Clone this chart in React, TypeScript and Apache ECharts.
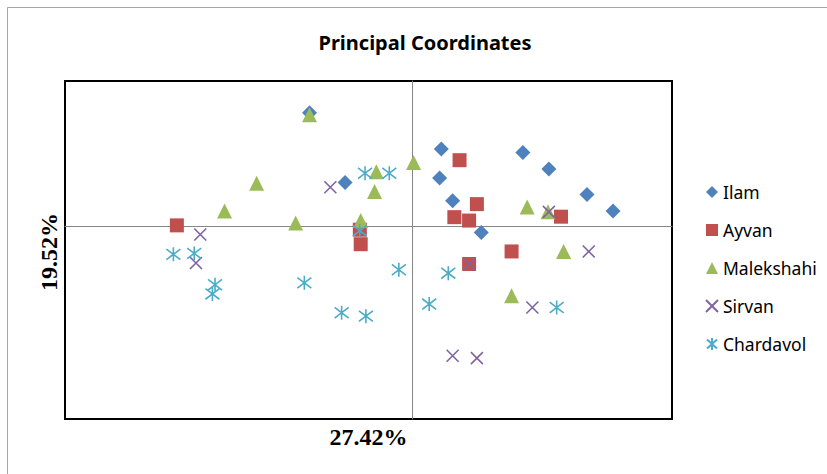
import React, { useEffect, useRef } from "react";
import * as echarts from "echarts";

const seriesNames = ["Ilam", "Ayvan", "Malekshahi", "Sirvan", "Chardavol"];
const seriesColors = ["#4F81BD", "#C0504D", "#9BBB59", "#8064A2", "#4BACC6"];

const ilam: [number, number][] = [
  [-0.118, 0.234], [-0.077, 0.090], [0.034, 0.159], [0.032, 0.099], [0.047, 0.052],
  [0.080, -0.014], [0.128, 0.152], [0.158, 0.118], [0.202, 0.065], [0.232, 0.031],
];
const ayvan: [number, number][] = [
  [-0.271, 0.001], [-0.060, -0.008], [-0.059, -0.038], [0.055, 0.136], [0.075, 0.045],
  [0.049, 0.018], [0.066, 0.011], [0.172, 0.019], [0.115, -0.053], [0.066, -0.079],
];
const malekshahi: [number, number][] = [
  [-0.118, 0.230], [-0.041, 0.112], [-0.043, 0.071], [0.002, 0.131], [-0.179, 0.088],
  [-0.216, 0.031], [-0.134, 0.006], [-0.059, 0.011], [0.133, 0.039], [0.157, 0.029],
  [0.175, -0.053], [0.115, -0.145],
];
const sirvan: [number, number][] = [
  [-0.094, 0.080], [-0.244, -0.018], [-0.249, -0.077], [0.158, 0.029], [0.204, -0.053],
  [0.066, -0.079], [0.139, -0.169], [0.047, -0.269], [0.075, -0.274],
];
const chardavol: [number, number][] = [
  [-0.054, 0.109], [-0.026, 0.109], [-0.060, -0.010], [-0.275, -0.059], [-0.251, -0.057],
  [-0.227, -0.122], [-0.230, -0.141], [-0.124, -0.118], [-0.081, -0.180], [-0.053, -0.187],
  [-0.015, -0.091], [0.042, -0.098], [0.020, -0.162], [0.167, -0.169],
];

const titleText = "Principal Coordinates";
const xAxisLabel = "27.42%";
const yAxisLabel = "19.52%";

const X_PATH = "path://M0,0 L10,10 M10,0 L0,10";
const STAR_PATH = "path://M5,0 L5,10 M0.8,1.2 L9.2,8.8 M0.8,8.8 L9.2,1.2";

export default function App() {
  const ref = useRef<HTMLDivElement>(null);
  useEffect(() => {
    if (!ref.current) return;
    const chart = echarts.init(ref.current, null, { renderer: "svg" });
    const datasets = [ilam, ayvan, malekshahi, sirvan, chardavol];
    const symbols = ["diamond", "rect", "triangle", X_PATH, STAR_PATH];
    const sizes = [15, 14, 15, 12, 14];
    const series = datasets.map((d, i) => {
      const isLine = i >= 3;
      return {
        name: seriesNames[i],
        type: "scatter",
        data: d,
        symbol: symbols[i],
        symbolSize: sizes[i],
        z: 2 + i,
        itemStyle: isLine
          ? { color: "rgba(0,0,0,0)", borderColor: seriesColors[i], borderWidth: 1.6, opacity: 1 }
          : { color: seriesColors[i], borderWidth: 0, opacity: 1 },
        emphasis: { disabled: true },
      };
    });
    chart.setOption({
      animation: false,
      backgroundColor: "#ffffff",
      grid: {
        left: 65,
        right: 155,
        top: 81,
        bottom: 55,
        show: true,
        borderColor: "#000000",
        borderWidth: 2,
        containLabel: false,
      },
      xAxis: {
        type: "value",
        min: -0.4,
        max: 0.3,
        splitLine: { show: false },
        axisTick: { show: false },
        axisLabel: { show: false },
        axisLine: { show: true, onZero: true, lineStyle: { color: "#868686", width: 1 } },
      },
      yAxis: {
        type: "value",
        min: -0.4,
        max: 0.3,
        splitLine: { show: false },
        axisTick: { show: false },
        axisLabel: { show: false },
        axisLine: { show: true, onZero: true, lineStyle: { color: "#868686", width: 1 } },
      },
      legend: {
        orient: "vertical",
        left: 705,
        top: 182,
        padding: 0,
        itemWidth: 12,
        itemHeight: 12,
        itemGap: 18,
        data: seriesNames,
        textStyle: { fontFamily: "Noto Sans", fontSize: 17.5, color: "#000", lineHeight: 20 },
      },
      graphic: [
        {
          type: "rect",
          shape: { x: 7.5, y: 7.5, width: 1000, height: 1000 },
          style: { fill: "none", stroke: "#a6a6a6", lineWidth: 1 },
          silent: true,
          z: -10,
        },
        {
          type: "text",
          x: 425,
          y: 42,
          style: {
            text: titleText,
            fontFamily: "Noto Sans",
            fontWeight: "bold",
            fontSize: 20,
            fill: "#000",
            textAlign: "center",
            textVerticalAlign: "middle",
          },
        },
        {
          type: "text",
          x: 368.5,
          y: 437,
          style: {
            text: xAxisLabel,
            fontFamily: "Liberation Serif",
            fontWeight: "bold",
            fontSize: 24,
            fill: "#000",
            textAlign: "center",
            textVerticalAlign: "middle",
          },
        },
        {
          type: "text",
          x: 49,
          y: 252,
          rotation: Math.PI / 2,
          style: {
            text: yAxisLabel,
            fontFamily: "Liberation Serif",
            fontWeight: "bold",
            fontSize: 24,
            fill: "#000",
            textAlign: "center",
            textVerticalAlign: "middle",
          },
        },
      ],
      series,
    });
    return () => chart.dispose();
  }, []);
  return (
    <div
      ref={ref}
      style={{ position: "fixed", left: 0, top: 0, width: 827, height: 474 }}
    />
  );
}
